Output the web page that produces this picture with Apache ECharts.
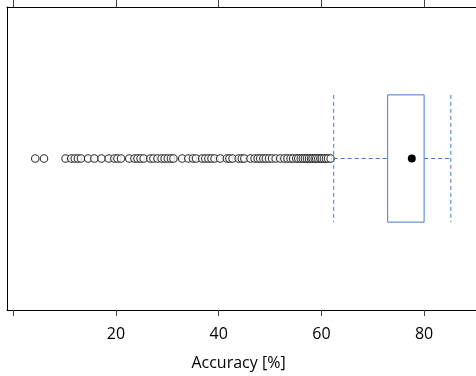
<!DOCTYPE html>
<html>
<head>
<meta charset="utf-8">
<script src="https://cdn.jsdelivr.net/npm/echarts@6/dist/echarts.min.js"></script>
<style>
  html, body { margin: 0; padding: 0; background: #fff; }
  #chart { width: 476px; height: 376px; }
</style>
</head>
<body>
<div id="chart"></div>
<script>
// 箱线图的五个统计量：下须、Q1、中位数、Q3、上须
const boxStats = [62.4, 72.9, 77.6, 80.0, 85.2];

// 离群点
const outliers = [
  4.3, 6.0, 10.2, 11.3, 12.0, 12.6, 13.2, 14.6, 15.8, 17.2, 18.6, 19.7, 20.3,
  21.0, 22.6, 23.6, 24.2, 24.8, 25.4, 26.7, 27.3, 28.1, 28.9, 29.5, 30.1, 30.7,
  31.2, 32.9, 34.1, 35.0, 35.6, 36.8, 37.4, 38.0, 38.6, 39.2, 40.3, 41.6, 42.1,
  42.7, 43.9, 44.5, 45.0, 46.2, 47.0, 47.6, 48.1, 48.7, 49.2, 49.8, 50.4, 51.1,
  52.0, 52.8, 53.4, 54.0, 54.5, 55.1, 55.5, 56.0, 56.4, 56.8, 57.2, 57.6, 58.0,
  58.3, 58.7, 59.0, 59.4, 59.8, 60.1, 60.5, 60.9, 61.3, 61.8
];

const tickValues = [0, 20, 40, 60, 80];
const labelValues = [20, 40, 60, 80];
const axisTitle = 'Accuracy [%]';

const boxColor = '#3f7bd4';
const font = 'Open Sans';
const frame = { color: '#000', width: 1 };

const chart = echarts.init(document.getElementById('chart'));

const option = {
  animation: false,
  // 右侧边框在原图中被裁掉，所以不画网格边框，只画三条轴线
  grid: {
    left: 7,
    right: 0,
    top: 7,
    bottom: 65,
    show: false
  },
  xAxis: [
    {
      type: 'value',
      min: -1.2,
      max: 90.1,
      position: 'bottom',
      splitLine: { show: false },
      axisLine: { show: true, onZero: false, lineStyle: frame },
      axisTick: {
        show: true,
        inside: false,
        length: 6,
        customValues: tickValues,
        lineStyle: { color: '#444', width: 1 }
      },
      axisLabel: {
        customValues: labelValues,
        margin: 16,
        fontFamily: font,
        fontSize: 16,
        color: '#000'
      },
      name: axisTitle,
      nameLocation: 'middle',
      nameGap: 45,
      nameTextStyle: {
        fontFamily: font,
        fontSize: 16,
        color: '#000',
        padding: [0, 6, 0, 0]
      }
    },
    {
      type: 'value',
      min: -1.2,
      max: 90.1,
      position: 'top',
      splitLine: { show: false },
      axisLine: { show: true, onZero: false, lineStyle: frame },
      axisTick: {
        show: true,
        inside: false,
        length: 7,
        customValues: tickValues,
        lineStyle: { color: '#444', width: 1 }
      },
      axisLabel: { show: false }
    }
  ],
  yAxis: {
    type: 'category',
    data: [''],
    boundaryGap: true,
    axisLine: { show: true, onZero: false, lineStyle: frame },
    axisTick: { show: false },
    axisLabel: { show: false },
    splitLine: { show: false }
  },
  series: [
    {
      type: 'scatter',
      data: outliers.map(v => [v, 0]),
      symbol: 'circle',
      symbolSize: 7.5,
      itemStyle: { color: '#fff', borderColor: '#000', borderWidth: 1.1 },
      z: 2
    },
    {
      type: 'custom',
      data: [boxStats.concat([0])],
      encode: { x: [0, 1, 2, 3, 4], y: 5 },
      z: 3,
      renderItem: function (params, api) {
        const band = api.size([0, 1])[1];
        const h = band * 0.42;
        const pLo = api.coord([api.value(0), 0]);
        const pQ1 = api.coord([api.value(1), 0]);
        const pMed = api.coord([api.value(2), 0]);
        const pQ3 = api.coord([api.value(3), 0]);
        const pHi = api.coord([api.value(4), 0]);
        const cy = pMed[1];
        const dash = { stroke: boxColor, lineWidth: 1, lineDash: [4, 3] };
        return {
          type: 'group',
          children: [
            { type: 'line', shape: { x1: pLo[0], y1: cy, x2: pQ1[0], y2: cy }, style: dash },
            { type: 'line', shape: { x1: pQ3[0], y1: cy, x2: pHi[0], y2: cy }, style: dash },
            { type: 'line', shape: { x1: pLo[0], y1: cy - h / 2, x2: pLo[0], y2: cy + h / 2 }, style: dash },
            { type: 'line', shape: { x1: pHi[0], y1: cy - h / 2, x2: pHi[0], y2: cy + h / 2 }, style: dash },
            {
              type: 'rect',
              shape: { x: pQ1[0], y: cy - h / 2, width: pQ3[0] - pQ1[0], height: h },
              style: { fill: 'none', stroke: boxColor, lineWidth: 1 }
            },
            {
              type: 'circle',
              shape: { cx: pMed[0], cy: cy, r: 4 },
              style: { fill: '#000' }
            }
          ]
        };
      }
    }
  ]
};

chart.setOption(option);

window.addEventListener('resize', () => chart.resize());
</script>
</body>
</html>
